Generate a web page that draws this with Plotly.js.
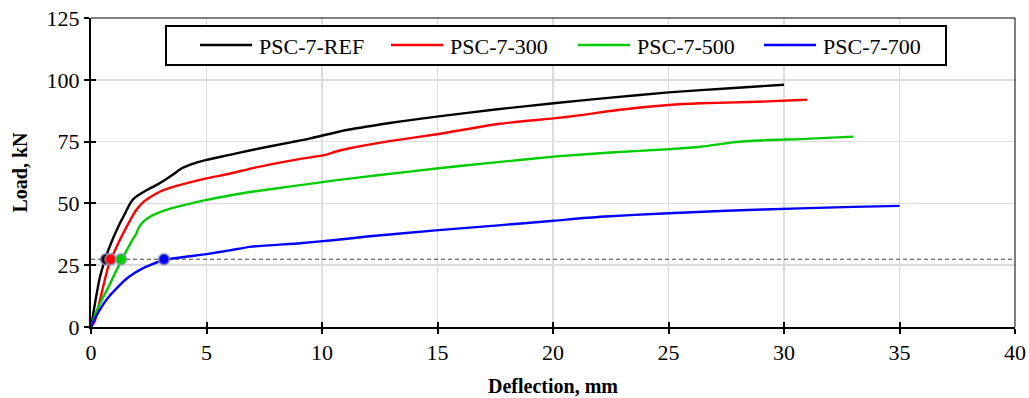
<!DOCTYPE html>
<html>
<head>
<meta charset="utf-8">
<script src="https://cdn.plot.ly/plotly-3.0.1.min.js"></script>
<style>html,body{margin:0;padding:0;background:#fff;}#chart{width:1029px;height:398px;}</style>
</head>
<body>
<div id="chart"></div>
<script>
// ---- data ----
const seriesNames = ["PSC-7-REF", "PSC-7-300", "PSC-7-500", "PSC-7-700"];
const seriesColors = ["#000000", "#ff0000", "#00cc00", "#0000ff"];

const refX = [0, 0.39, 0.75, 1.18, 1.45, 1.62, 1.75, 1.9, 2.2, 2.5, 2.9, 3.2, 3.6, 3.93, 4.4, 5.0, 6.0, 6.96, 8.7, 9.5, 11.0, 12.5, 13.5, 15.05, 17.5, 20.03, 22.5, 25.0, 27.5, 30.0];
const refY = [0, 20.3, 31.1, 40.6, 45.5, 48.7, 50.8, 52.3, 54.2, 55.8, 57.8, 59.5, 62, 64.2, 66, 67.6, 69.6, 71.6, 74.8, 76.3, 79.6, 81.9, 83.3, 85.2, 88, 90.5, 92.8, 94.9, 96.5, 98];

const s300X = [0, 0.15, 0.32, 0.75, 1.18, 1.62, 1.85, 2.05, 2.3, 2.63, 3.0, 3.35, 4.2, 5.0, 6.0, 6.96, 8.0, 9.06, 10.14, 10.57, 11.2, 13, 15.05, 17.7, 20.03, 21.3, 22.8, 25.0, 26.4, 28.5, 30.7, 31.0];
const s300Y = [0, 2, 8.2, 24.4, 33.9, 41.9, 45.8, 48.4, 50.8, 52.9, 54.8, 56.1, 58.3, 60.1, 62, 64.2, 66.2, 68, 69.6, 70.9, 72.3, 75.3, 78.1, 82.2, 84.4, 85.8, 87.8, 89.8, 90.5, 91, 91.8, 92];

const s500X = [0, 0.2, 0.46, 0.8, 1.11, 1.55, 1.83, 1.95, 2.05, 2.27, 2.55, 2.85, 3.4, 4.07, 5.0, 6.0, 6.96, 8.5, 10.57, 12.5, 15.05, 17.5, 20.03, 22.5, 25.0, 26.4, 27.8, 29.3, 30.7, 33.0];
const s500Y = [0, 5.5, 10.9, 17, 23.1, 31.1, 35.9, 37.5, 39.9, 42.6, 44.6, 46, 47.8, 49.4, 51.4, 53.2, 54.7, 56.7, 59.3, 61.5, 64.2, 66.6, 68.9, 70.6, 71.9, 72.9, 74.7, 75.6, 76, 77];

const s700X = [0, 0.2, 0.46, 0.8, 1.18, 1.5, 1.9, 2.2, 2.63, 3.16, 4.0, 5.0, 6.0, 6.96, 9.06, 10.57, 11.95, 15.05, 17.5, 20.03, 22.05, 25.0, 27.5, 30.7, 33.0, 35.0];
const s700Y = [0, 4, 8.2, 12.5, 16.3, 19.2, 21.9, 23.5, 25.3, 27.1, 28.3, 29.5, 31, 32.5, 33.9, 35.2, 36.6, 39.2, 41, 43, 44.6, 46, 47, 48, 48.6, 49];

// first-crack markers and reference load level
const crackX = [0.65, 0.85, 1.3, 3.16];
const crackY = [27.4, 27.4, 27.4, 27.4];
const refLineX = [0, 40];
const refLineY = [27.4, 27.4];

const xTicks = [0, 5, 10, 15, 20, 25, 30, 35, 40];
const yTicks = [0, 25, 50, 75, 100, 125];

// ---- traces ----
const seriesX = [refX, s300X, s500X, s700X];
const seriesY = [refY, s300Y, s500Y, s700Y];
const FONT = "Liberation Serif";
const FS = 22;

const traces = [];
traces.push({
  x: refLineX, y: refLineY, mode: "lines", showlegend: false, hoverinfo: "skip",
  line: {color: "#404040", width: 1.2, dash: "4px,3px"}
});
for (let i = 0; i < 4; i++) {
  traces.push({
    x: seriesX[i], y: seriesY[i], name: seriesNames[i], mode: "lines", showlegend: false,
    line: {color: seriesColors[i], width: 2.4, shape: "spline", smoothing: 0.6}
  });
}
traces.push({
  x: crackX, y: crackY, mode: "markers", showlegend: false,
  marker: {color: seriesColors, size: 11, line: {color: "rgba(150,150,190,0.7)", width: 2}}
});
// invisible trace to drive inner ticks
traces.push({x: [0], y: [0], xaxis: "x2", yaxis: "y2", mode: "markers", marker: {opacity: 0}, showlegend: false, hoverinfo: "skip"});

const W = 1029, H = 398, ML = 91, MR = 14, MT = 18, MB = 71;
const PW = W - ML - MR, PH = H - MT - MB;
const px2x = p => (p - ML) / PW;
const px2y = p => 1 - (p - MT) / PH;

// legend (boxed, single row) built from series names/colours
const legendStarts = [200, 391, 578, 764];
const legendY = 45;
const shapes = [
  {type: "rect", xref: "paper", yref: "paper", x0: px2x(166), x1: px2x(946), y0: px2y(65), y1: px2y(26),
    fillcolor: "#ffffff", line: {color: "#000", width: 2}, layer: "above"},
  {type: "line", xref: "paper", yref: "paper", x0: 0, x1: 1, y0: 1, y1: 1, line: {color: "#000", width: 1}},
  {type: "line", xref: "paper", yref: "paper", x0: 1, x1: 1, y0: 0, y1: 1, line: {color: "#000", width: 1}}
];
const annotations = [];
for (let i = 0; i < 4; i++) {
  shapes.push({type: "line", xref: "paper", yref: "paper", layer: "above",
    x0: px2x(legendStarts[i]), x1: px2x(legendStarts[i] + 52), y0: px2y(legendY), y1: px2y(legendY),
    line: {color: seriesColors[i], width: 2.6}});
  annotations.push({xref: "paper", yref: "paper", x: px2x(legendStarts[i] + 57), y: px2y(legendY + 1),
    xanchor: "left", yanchor: "middle", showarrow: false, text: seriesNames[i],
    font: {family: FONT, size: FS, color: "#000"}});
}

const layout = {
  width: W, height: H,
  margin: {l: ML, r: MR, t: MT, b: MB},
  paper_bgcolor: "#ffffff", plot_bgcolor: "#ffffff",
  font: {family: FONT, size: FS, color: "#000"},
  showlegend: false,
  xaxis: {
    range: [0, 40], tickvals: xTicks, ticktext: xTicks.map(String),
    showgrid: true, gridcolor: "#dcdcdc", gridwidth: 1.5, zeroline: false,
    showline: true, linecolor: "#000", linewidth: 2,
    ticks: "outside", ticklen: 5, tickwidth: 2, tickcolor: "#000",
    tickfont: {family: FONT, size: FS},
    title: {text: "<b>Deflection, mm</b>", font: {family: FONT, size: 20}, standoff: 15}
  },
  yaxis: {
    range: [0, 125], tickvals: yTicks, ticktext: yTicks.map(String),
    showgrid: true, gridcolor: "#dcdcdc", gridwidth: 1.5, zeroline: false,
    showline: true, linecolor: "#000", linewidth: 2,
    ticks: "outside", ticklen: 5, tickwidth: 2, tickcolor: "#000",
    tickfont: {family: FONT, size: FS},
    title: {text: "<b>Load, kN</b>", font: {family: FONT, size: 20}, standoff: 14}
  },
  xaxis2: {overlaying: "x", matches: "x", range: [0, 40], tickvals: xTicks, showticklabels: false,
    ticks: "inside", ticklen: 5, tickwidth: 2, tickcolor: "#000", showgrid: false, zeroline: false, showline: false},
  yaxis2: {overlaying: "y", matches: "y", range: [0, 125], tickvals: yTicks, showticklabels: false,
    ticks: "inside", ticklen: 5, tickwidth: 2, tickcolor: "#000", showgrid: false, zeroline: false, showline: false},
  shapes: shapes,
  annotations: annotations
};

Plotly.newPlot("chart", traces, layout, {displayModeBar: false, staticPlot: true});
</script>
</body>
</html>
